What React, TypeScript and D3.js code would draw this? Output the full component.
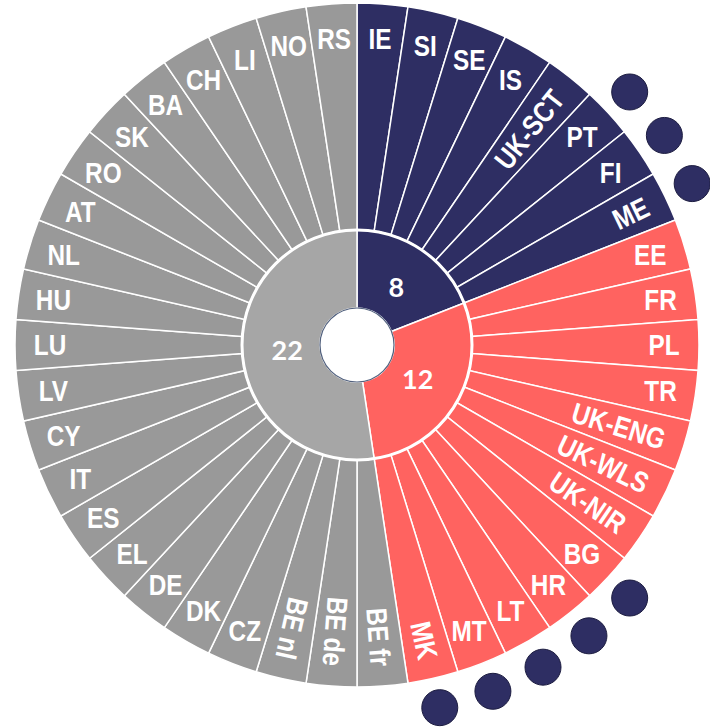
import { useRef, useEffect } from "react";
import * as d3 from "d3";

// three groups, clockwise from 12 o'clock
const navyGroup = ["IE", "SI", "SE", "IS", "UK-SCT", "PT", "FI", "ME"];
const redGroup = ["EE", "FR", "PL", "TR", "UK-ENG", "UK-WLS", "UK-NIR", "BG", "HR", "LT", "MT", "MK"];
const grayGroup = [
  "BE fr", "BE de", "BE nl", "CZ", "DK", "DE", "EL", "ES", "IT", "CY", "LV",
  "LU", "HU", "NL", "AT", "RO", "SK", "BA", "CH", "LI", "NO", "RS",
];
const groupColors = ["#2e2e63", "#ff6360", "#a6a6a6"];
const outerColors = ["#2e2e63", "#ff6360", "#999999"];

// members flagged with a dot outside the ring
const flagged = ["PT", "FI", "ME", "BG", "HR", "LT", "MT", "MK"];
// labels drawn along the radius instead of horizontally
const radialLabels = ["UK-SCT", "ME", "UK-ENG", "UK-WLS", "UK-NIR", "MK", "BE fr", "BE de", "BE nl"];

const width = 710;
const height = 727;

export default function App() {
  const svgRef = useRef(null);

  useEffect(() => {
    const cx = 357;
    const cy = 345;
    const outerR = 342;
    const midR = 115;
    const holeR = 37;

    const groups = [navyGroup, redGroup, grayGroup];
    const members = groups.flatMap((g, gi) => g.map((name) => ({ name, group: gi })));

    const svg = d3.select(svgRef.current);
    svg.selectAll("*").remove();
    const g = svg.append("g").attr("transform", `translate(${cx},${cy})`);

    const pie = d3.pie<any>().sort(null).value(() => 1);
    const outerArcs = pie(members);
    const outerArc = d3.arc<any>().innerRadius(midR).outerRadius(outerR);

    g.selectAll("path.outer")
      .data(outerArcs)
      .enter()
      .append("path")
      .attr("class", "outer")
      .attr("d", outerArc)
      .attr("fill", (d) => outerColors[d.data.group])
      .attr("stroke", "#ffffff")
      .attr("stroke-width", 1.5);

    const innerPie = d3.pie<any>().sort(null).value((d) => d.length);
    const innerArcs = innerPie(groups);
    const innerArc = d3.arc<any>().innerRadius(holeR).outerRadius(midR);

    g.selectAll("path.inner")
      .data(innerArcs)
      .enter()
      .append("path")
      .attr("class", "inner")
      .attr("d", innerArc)
      .attr("fill", (d, i) => groupColors[i])
      .attr("stroke", "#ffffff")
      .attr("stroke-width", 1.5);

    g.append("circle")
      .attr("r", midR)
      .attr("fill", "none")
      .attr("stroke", "#ffffff")
      .attr("stroke-width", 3);

    g.append("circle")
      .attr("r", holeR)
      .attr("fill", "#ffffff")
      .attr("stroke", "#52617e")
      .attr("stroke-width", 1.2);

    // counts in the inner ring
    const countPos = d3.arc<any>().innerRadius(70).outerRadius(70);
    g.selectAll("text.count")
      .data(innerArcs)
      .enter()
      .append("text")
      .attr("class", "count")
      .attr("transform", (d) => `translate(${countPos.centroid(d)})`)
      .attr("text-anchor", "middle")
      .attr("dy", "0.35em")
      .attr("fill", "#ffffff")
      .attr("font-family", "Lato, 'Open Sans', sans-serif")
      .attr("font-weight", "bold")
      .attr("font-size", 27)
      .text((d) => d.data.length);

    // member labels (condensed look)
    const labelR = 307;
    const radialEnd = 322;
    const squeeze = 0.84;
    const deg = (a) => (a * 180) / Math.PI;

    g.selectAll("text.label")
      .data(outerArcs)
      .enter()
      .append("text")
      .attr("class", "label")
      .attr("transform", (d) => {
        const a = (d.startAngle + d.endAngle) / 2;
        if (radialLabels.includes(d.data.name)) {
          const x = Math.sin(a) * radialEnd;
          const y = -Math.cos(a) * radialEnd;
          return `translate(${x},${y}) rotate(${deg(a) - 90}) scale(${squeeze},1)`;
        }
        return `translate(${Math.sin(a) * labelR},${-Math.cos(a) * labelR}) scale(${squeeze},1)`;
      })
      .attr("text-anchor", (d) => (radialLabels.includes(d.data.name) ? "end" : "middle"))
      .attr("dy", "0.36em")
      .attr("fill", "#ffffff")
      .attr("font-family", "'Liberation Sans', Arial, sans-serif")
      .attr("font-weight", "bold")
      .attr("font-size", 29)
      .text((d) => d.data.name);

    // flag dots
    const dotR = 372;
    g.selectAll("circle.flag")
      .data(outerArcs.filter((d) => flagged.includes(d.data.name)))
      .enter()
      .append("circle")
      .attr("class", "flag")
      .attr("cx", (d) => Math.sin((d.startAngle + d.endAngle) / 2) * dotR)
      .attr("cy", (d) => -Math.cos((d.startAngle + d.endAngle) / 2) * dotR)
      .attr("r", 18)
      .attr("fill", "#2e2e63")
      .attr("stroke", "#1c1c40")
      .attr("stroke-width", 1);
  }, []);

  return (
    <svg
      ref={svgRef}
      width={width}
      height={height}
      style={{ position: "absolute", left: 0, top: 0, background: "#ffffff" }}
    />
  );
}
